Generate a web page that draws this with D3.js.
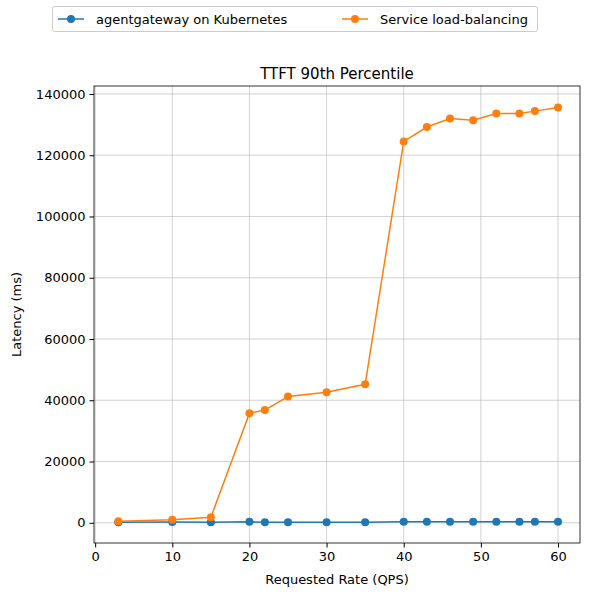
<!DOCTYPE html><html><head><script src="https://cdn.jsdelivr.net/npm/d3@7"></script>
<style>body{margin:0;background:#fff}text{font-family:"DejaVu Sans";}</style></head><body>
<script>
const rates=[3,10,15,20,22,25,30,35,40,43,46,49,52,55,57,60];
const agentgateway=[200,250,200,300,200,200,200,200,300,300,300,300,300,300,300,300];
const serviceLB=[500,1000,1800,35800,36800,41200,42600,45200,124500,129200,132000,131400,133600,133600,134400,135600];
const xTicks=[0,10,20,30,40,50,60];
const yTicks=[0,20000,40000,60000,80000,100000,120000,140000];
const series=[{name:"agentgateway on Kubernetes",vals:agentgateway,c:"#1f77b4"},{name:"Service load-balancing",vals:serviceLB,c:"#ff7f0e"}];
const W=590,H=598,L=94,R=580,T=86,B=543;
const svg=d3.select("body").append("svg").attr("width",W).attr("height",H);
const x=d3.scaleLinear().domain([-0.15,62.85]).range([L,R]);
const y=d3.scaleLinear().domain([-6600,142600]).range([B,T]);
const g=svg.append("g");
g.selectAll(".gx").data(xTicks).join("line").attr("x1",d=>x(d)).attr("x2",d=>x(d)).attr("y1",T).attr("y2",B).attr("stroke","#b0b0b0").attr("stroke-width",0.8).attr("opacity",0.7);
g.selectAll(".gy").data(yTicks).join("line").attr("x1",L).attr("x2",R).attr("y1",d=>y(d)).attr("y2",d=>y(d)).attr("stroke","#b0b0b0").attr("stroke-width",0.8).attr("opacity",0.7);
const xa=svg.append("g").attr("transform",`translate(0,${B})`).call(d3.axisBottom(x).tickValues(xTicks).tickSize(4.5).tickPadding(4));
const ya=svg.append("g").attr("transform",`translate(${L},0)`).call(d3.axisLeft(y).tickValues(yTicks).tickFormat(d3.format("d")).tickSize(4.5).tickPadding(4));
[xa,ya].forEach(a=>{a.select(".domain").remove();a.selectAll("text").attr("font-size",13).attr("fill","#000").style("font-family","DejaVu Sans");a.selectAll("line").attr("stroke","#000");});
svg.append("rect").attr("x",L).attr("y",T).attr("width",R-L).attr("height",B-T).attr("fill","none").attr("stroke","#000").attr("stroke-width",0.8);
const line=d3.line().x((d,i)=>x(rates[i])).y(d=>y(d));
series.forEach(s=>{
 svg.append("path").attr("d",line(s.vals)).attr("fill","none").attr("stroke",s.c).attr("stroke-width",1.5);
 svg.append("g").selectAll("circle").data(s.vals).join("circle").attr("cx",(d,i)=>x(rates[i])).attr("cy",d=>y(d)).attr("r",4).attr("fill",s.c);
});
svg.append("text").attr("x",(L+R)/2).attr("y",T-7).attr("text-anchor","middle").attr("font-size",15).text("TTFT 90th Percentile");
svg.append("text").attr("x",(L+R)/2).attr("y",584).attr("text-anchor","middle").attr("font-size",13).text("Requested Rate (QPS)");
svg.append("text").attr("transform",`translate(21,${(T+B)/2}) rotate(-90)`).attr("text-anchor","middle").attr("font-size",13).text("Latency (ms)");
const lg=svg.append("g");
lg.append("rect").attr("x",52.5).attr("y",6.5).attr("width",485).attr("height",25).attr("rx",2).attr("fill","#fff").attr("stroke","#ccc");
[[58,series[0]],[342,series[1]]].forEach(([lx,s])=>{
 lg.append("line").attr("x1",lx).attr("x2",lx+26).attr("y1",19).attr("y2",19).attr("stroke",s.c).attr("stroke-width",1.5);
 lg.append("circle").attr("cx",lx+13).attr("cy",19).attr("r",4).attr("fill",s.c);
 lg.append("text").attr("x",lx+38).attr("y",23.5).attr("font-size",13).text(s.name);
});
</script></body></html>
